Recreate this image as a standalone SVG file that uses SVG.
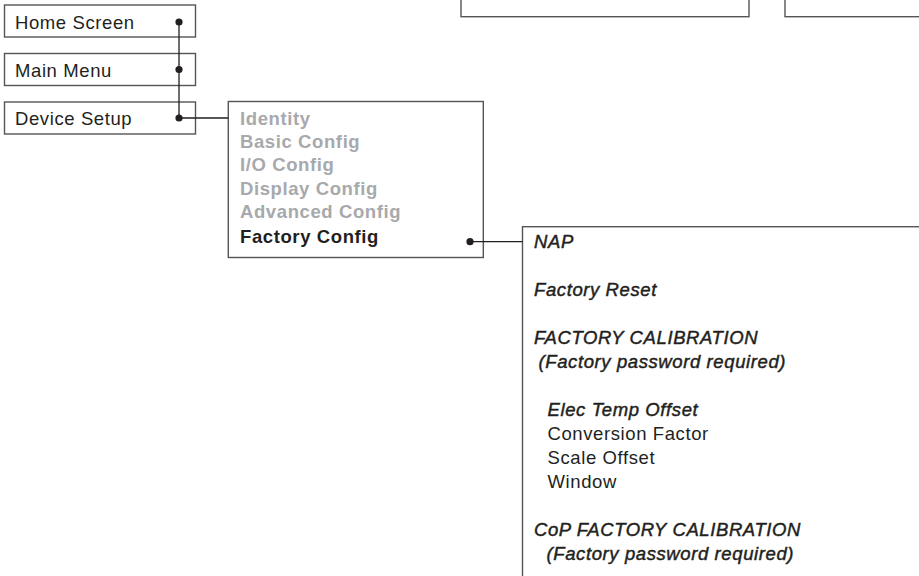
<svg xmlns="http://www.w3.org/2000/svg" width="919" height="576" viewBox="0 0 919 576">
<style>
.box{fill:#fff;stroke:#555;stroke-width:1.4}
text{font-family:"Liberation Sans",Arial,Helvetica,sans-serif;font-size:18.5px;letter-spacing:0.6px}
.t{fill:#231f20}
.g{font-weight:bold;fill:#a7a9ac}
.b{font-weight:bold;fill:#231f20}
.i{font-style:italic;fill:#231f20;stroke:#231f20;stroke-width:0.45}
.ln{fill:none;stroke:#231f20;stroke-width:1.3}
.dot{fill:#231f20}
</style>
<rect width="919" height="576" fill="#fff"/>
<g id="top-box-1"><rect class="box" x="461" y="-20" width="288" height="36.7"/></g>
<g id="top-box-2"><rect class="box" x="785" y="-20" width="200" height="36.7"/></g>
<g id="home-screen"><rect class="box" x="4.5" y="5" width="191" height="32"/><text class="t" x="15" y="29">Home Screen</text></g>
<g id="main-menu"><rect class="box" x="4.5" y="53.5" width="191" height="32"/><text class="t" x="15" y="77">Main Menu</text></g>
<g id="device-setup"><rect class="box" x="4.5" y="102" width="191" height="32"/><text class="t" x="15" y="125">Device Setup</text></g>
<g id="device-setup-menu"><rect class="box" x="228.3" y="101.5" width="255" height="156"/>
<text class="g" x="240" y="125">Identity</text>
<text class="g" x="240" y="148">Basic Config</text>
<text class="g" x="240" y="171">I/O Config</text>
<text class="g" x="240" y="194.5">Display Config</text>
<text class="g" x="240" y="218">Advanced Config</text>
<text class="b" x="240" y="242.5">Factory Config</text>
</g>
<g id="factory-config-menu"><rect class="box" x="522.5" y="226.7" width="420" height="380"/>
<text class="i" x="534" y="248">NAP</text>
<text class="i" x="534" y="296">Factory Reset</text>
<text class="i" x="534" y="344">FACTORY CALIBRATION</text>
<text class="i" x="538.5" y="368">(Factory password required)</text>
<text class="i" x="547.5" y="416">Elec Temp Offset</text>
<text class="t" x="547.5" y="440">Conversion Factor</text>
<text class="t" x="547.5" y="464">Scale Offset</text>
<text class="t" x="547.5" y="488">Window</text>
<text class="i" x="534" y="536">CoP FACTORY CALIBRATION</text>
<text class="i" x="546.5" y="560">(Factory password required)</text>
</g>
<g id="connectors">
<path class="ln" d="M179 22V118H228.3"/>
<path class="ln" d="M470 241.7H522.5"/>
<circle class="dot" cx="179" cy="22" r="3.6"/>
<circle class="dot" cx="179" cy="69.5" r="3.6"/>
<circle class="dot" cx="179" cy="118" r="3.6"/>
<circle class="dot" cx="470" cy="241.7" r="3.6"/>
</g>
</svg>
